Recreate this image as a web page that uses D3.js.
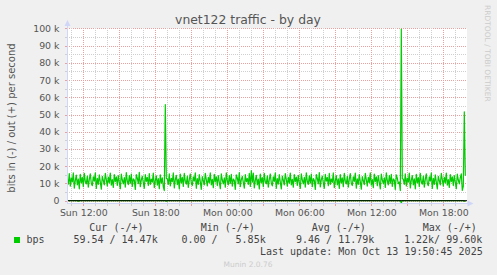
<!DOCTYPE html>
<html>
<head>
<meta charset="utf-8">
<script src="https://cdn.jsdelivr.net/npm/d3@7"></script>
<style>
body { margin: 0; background: #f0f0f0; }
svg { display: block; }
text { font-family: "DejaVu Sans", sans-serif; fill: #555; }
.mono { font-family: "DejaVu Sans Mono", monospace; white-space: pre; fill: #444; }
</style>
</head>
<body>
<div id="chart"></div>
<script>
// chart values (kbps), one point every 5 minutes from Sun 10:40 to Mon 19:50
const outK = [
  12.8, 9.6, 15.7, 8.4, 13.2, 10.9, 16.1, 7.3, 11.7, 14.8, 9.1, 12.6, 6.9, 15.3, 10.4, 13.5, 8.2, 15.9, 11.1, 9.7,
  14.3, 7.8, 12.4, 15.6, 10.0, 8.7, 13.9, 11.3, 16.2, 7.1, 12.9, 9.5, 15.0, 10.8, 6.7, 14.1, 11.8, 9.2, 15.8, 12.2,
  8.5, 13.7, 10.3, 16.0, 9.0, 12.3, 7.7, 15.2, 11.0, 13.8, 8.9, 14.6, 10.6, 7.0, 15.5, 12.0, 9.8, 13.4, 7.9, 16.3,
  11.4, 9.3, 14.5, 10.1, 15.4, 8.3, 12.7, 11.9, 6.5, 15.1, 13.1, 9.9, 16.4, 8.1, 12.1, 14.2, 10.5, 7.2, 15.2, 11.2,
  13.6, 8.8, 15.7, 9.4, 12.5, 10.7, 16.0, 7.5, 11.6, 14.4, 9.0, 12.8, 7.0, 15.0, 10.2, 13.3, 8.0, 5.85,
  55.8,
  13.0, 12.6, 9.5, 15.6, 8.6, 13.0, 11.0, 16.1, 7.4, 12.2, 14.7, 9.3, 12.5, 6.8, 15.4, 10.3, 13.6, 8.3, 15.8, 11.2, 9.6,
  14.2, 7.7, 12.3, 15.5, 10.1, 8.8, 13.8, 11.4, 16.2, 7.2, 12.8, 9.4, 15.1, 10.9, 6.6, 14.0, 11.7, 9.1, 15.9, 12.1,
  8.6, 13.5, 10.4, 16.1, 9.1, 12.4, 7.6, 15.3, 11.1, 13.9, 8.8, 14.5, 10.7, 7.0, 15.6, 12.0, 9.7, 13.2, 7.8, 16.2,
  11.5, 9.2, 14.6, 10.0, 15.3, 8.4, 12.6, 11.8, 6.6, 15.0, 13.2, 9.8, 16.3, 8.1, 12.2, 14.1, 10.6, 7.3, 15.1, 11.0,
  12.9, 9.5, 15.8, 8.3, 17.4, 10.8, 16.0, 7.4, 11.8, 14.7, 9.2, 12.5, 6.8, 15.4, 10.5, 13.4, 8.1, 15.8, 11.0, 9.8,
  14.4, 7.9, 12.3, 15.5, 10.1, 8.6, 13.8, 11.2, 16.1, 7.2, 12.8, 9.6, 15.1, 10.7, 6.8, 14.2, 11.9, 9.1, 15.7, 12.3,
  8.4, 13.6, 10.2, 16.0, 9.1, 12.4, 7.8, 15.1, 11.1, 13.7, 8.9, 14.7, 10.5, 7.1, 15.6, 12.1, 9.7, 13.5, 7.9, 16.2,
  11.3, 9.4, 14.4, 10.2, 15.5, 8.2, 12.8, 11.8, 6.5, 15.2, 13.0, 9.8, 16.3, 8.0, 12.2, 14.3, 10.4, 7.2, 15.3, 11.3,
  13.5, 8.7, 15.8, 9.5, 12.6, 10.6, 16.1, 7.6, 11.5, 14.5, 9.1, 12.7, 7.1, 15.1, 10.3, 13.2, 8.1, 15.9, 11.2, 9.7,
  14.1, 7.8, 12.5, 15.7, 10.0, 8.8, 13.9, 11.2, 16.0, 7.3, 12.7, 9.5, 15.2, 10.9, 6.7, 14.0, 11.6, 9.3, 15.8, 12.1,
  8.5, 13.6, 10.5, 16.2, 9.0, 12.2, 7.5, 15.4, 11.0, 13.8, 8.7, 14.6, 10.7, 6.9, 15.5, 12.1, 9.9, 13.3, 7.7, 16.1,
  11.6, 9.1, 14.5, 10.1, 15.3, 8.3, 12.6, 11.9, 6.6, 15.0, 13.1, 9.9, 10.8, 5.9,
  99.6,
  12.7, 12.5, 9.4, 15.6, 8.5, 13.1, 10.8, 16.0, 7.4, 11.9, 14.6, 9.1, 12.7, 6.9, 15.3, 10.4, 13.4, 8.2, 15.9, 11.0, 9.6, 14.3, 7.8, 12.4, 15.6,
  10.1, 8.7, 13.8, 11.4, 16.1, 7.1, 12.9, 9.4, 15.0, 10.8, 6.8, 14.1, 11.7, 9.2, 15.8, 12.2, 8.5, 13.6, 10.3, 16.0,
  9.0, 12.3, 7.7, 15.2, 11.0, 13.9, 8.8, 14.6, 10.6, 7.0, 15.5, 12.0, 9.8, 13.4, 15.6, 6.0, 8.3,
  51.6, 14.47
];
// in (-) traffic is almost nothing; only a few small bursts
const inBurstIndex = [11, 99, 334, 397];
const inBurstK = [0.3, 0.35, 1.22, 0.3];

const yTickValues = [0, 10, 20, 30, 40, 50, 60, 70, 80, 90, 100];
const yTickLabels = ['0', '10 k', '20 k', '30 k', '40 k', '50 k', '60 k', '70 k', '80 k', '90 k', '100 k'];
const xTickLabels = ['Sun 12:00', 'Sun 18:00', 'Mon 00:00', 'Mon 06:00', 'Mon 12:00', 'Mon 18:00'];
const xTickTimes = [
  Date.UTC(2025, 9, 12, 12), Date.UTC(2025, 9, 12, 18), Date.UTC(2025, 9, 13, 0),
  Date.UTC(2025, 9, 13, 6), Date.UTC(2025, 9, 13, 12), Date.UTC(2025, 9, 13, 18)
].map(t => new Date(t));

const legendHeaders = ['Cur (-/+)', 'Min (-/+)', 'Avg (-/+)', 'Max (-/+)'];
const legendValues = ['59.54 / 14.47k', '0.00 /   5.85k', '9.46 / 11.79k', '1.22k/ 99.60k'];

const W = 497, H = 275;
const plotL = 67, plotR = 467, plotT = 28.3, zeroY = 200.7, plotB = 203;
const firstPoint = Date.UTC(2025, 9, 12, 10, 40);
const step = 5 * 60 * 1000;

const svg = d3.select('#chart').append('svg')
    .attr('width', W)
    .attr('height', H);

svg.append('rect').attr('width', W).attr('height', H).attr('fill', '#f0f0f0');

const x = d3.scaleUtc()
    .domain([new Date(Date.UTC(2025, 9, 12, 10, 38, 30)), new Date(Date.UTC(2025, 9, 13, 19, 58, 30))])
    .range([plotL, plotR]);

const y = d3.scaleLinear()
    .domain([0, 100])
    .range([zeroY, plotT]);

// canvas
svg.append('rect')
    .attr('x', plotL).attr('y', plotT)
    .attr('width', plotR - plotL).attr('height', plotB - plotT)
    .attr('fill', '#fff');

// grid
const grid = svg.append('g').attr('shape-rendering', 'crispEdges');
const minorColor = '#cfcfcf', majorColor = '#eba0a0';

d3.range(0, 101, 5).forEach(v => {
    const major = v % 10 === 0;
    const yy = Math.round(y(v)) + 0.5;
    grid.append('line')
        .attr('x1', plotL).attr('x2', plotR).attr('y1', yy).attr('y2', yy)
        .attr('stroke', major ? majorColor : minorColor)
        .attr('stroke-dasharray', '1,1');
    grid.append('line')
        .attr('x1', plotL - 2).attr('x2', plotL).attr('y1', yy).attr('y2', yy)
        .attr('stroke', major ? majorColor : minorColor);
});

d3.utcHour.range(x.domain()[0], x.domain()[1]).forEach(t => {
    const major = t.getUTCHours() % 3 === 0;
    const xx = Math.round(x(t)) + 0.5;
    grid.append('line')
        .attr('x1', xx).attr('x2', xx).attr('y1', plotT).attr('y2', plotB)
        .attr('stroke', major ? majorColor : minorColor)
        .attr('stroke-dasharray', '1,1');
    grid.append('line')
        .attr('x1', xx).attr('x2', xx).attr('y1', plotB).attr('y2', plotB + 3)
        .attr('stroke', major ? majorColor : minorColor);
});

// data
svg.append('clipPath').attr('id', 'plot')
    .append('rect')
    .attr('x', plotL).attr('y', plotT - 2)
    .attr('width', plotR - plotL).attr('height', plotB - plotT + 3);

const outData = outK.map((v, i) => ({ t: new Date(firstPoint + i * step), v: v }));
const inData = outK.map((v, i) => {
    const k = inBurstIndex.indexOf(i);
    return { t: new Date(firstPoint + i * step), v: k >= 0 ? -inBurstK[k] : 0 };
});

const line = d3.line()
    .x(d => x(d.t))
    .y(d => y(d.v));

const plot = svg.append('g').attr('clip-path', 'url(#plot)');

plot.append('path')
    .datum(inData)
    .attr('fill', 'none')
    .attr('stroke', '#00cc00')
    .attr('stroke-width', 1.2)
    .attr('d', line);

plot.append('path')
    .datum(outData)
    .attr('fill', 'none')
    .attr('stroke', '#00cc00')
    .attr('stroke-width', 1.2)
    .attr('stroke-linejoin', 'round')
    .attr('d', line);

// zero line
svg.append('line')
    .attr('x1', plotL).attr('x2', plotR)
    .attr('y1', zeroY).attr('y2', zeroY)
    .attr('stroke', '#000').attr('stroke-width', 1);

// axes lines and arrows
const axisColor = '#cfd6f8';
svg.append('line')
    .attr('x1', plotL + 0.5).attr('x2', plotL + 0.5)
    .attr('y1', plotB).attr('y2', 23)
    .attr('stroke', axisColor);
svg.append('line')
    .attr('x1', plotL).attr('x2', 470)
    .attr('y1', plotB + 0.5).attr('y2', plotB + 0.5)
    .attr('stroke', axisColor);
svg.append('path')
    .attr('d', `M${plotL + 0.5},20 L${plotL + 3.5},26 L${plotL - 2.5},26 Z`)
    .attr('fill', axisColor);
svg.append('path')
    .attr('d', `M473.5,${plotB + 0.5} L467.5,${plotB - 2.5} L467.5,${plotB + 3.5} Z`)
    .attr('fill', axisColor);

// tick labels
const yAxis = svg.append('g')
    .attr('transform', `translate(${plotL},0)`)
    .call(d3.axisLeft(y).tickValues(yTickValues)
        .tickFormat((d, i) => yTickLabels[i]).tickSize(0).tickPadding(7.5));
yAxis.select('.domain').remove();
yAxis.selectAll('text')
    .attr('font-family', '"DejaVu Sans", sans-serif')
    .attr('font-size', 9.4)
    .style('fill', '#555');

const xAxis = svg.append('g')
    .attr('transform', `translate(0,${plotB})`)
    .call(d3.axisBottom(x).tickValues(xTickTimes)
        .tickFormat((d, i) => xTickLabels[i]).tickSize(0).tickPadding(6.3));
xAxis.select('.domain').remove();
xAxis.selectAll('text')
    .attr('font-family', '"DejaVu Sans", sans-serif')
    .attr('font-size', 9.4)
    .style('fill', '#555');

// title and side texts
svg.append('text')
    .attr('x', 248).attr('y', 24)
    .attr('text-anchor', 'middle')
    .attr('font-size', 12.4)
    .text('vnet122 traffic - by day');

svg.append('text')
    .attr('transform', 'translate(15,118) rotate(-90)')
    .attr('text-anchor', 'middle')
    .attr('font-size', 10)
    .text('bits in (-) / out (+) per second');

svg.append('text')
    .attr('transform', 'translate(485,5) rotate(90)')
    .attr('font-size', 7.5)
    .style('fill', '#cccccc')
    .text('RRDTOOL / TOBI OETIKER');

// legend
const headerX = [89.3, 200.7, 311.7, 422.7];
svg.selectAll('.hdr')
    .data(legendHeaders)
    .enter().append('text')
    .attr('class', 'mono hdr')
    .attr('x', (d, i) => headerX[i])
    .attr('y', 230.7)
    .attr('font-size', 10)
    .text(d => d);

svg.append('rect')
    .attr('x', 14).attr('y', 237)
    .attr('width', 6).attr('height', 6)
    .attr('fill', '#00cc00');
svg.append('text')
    .attr('class', 'mono')
    .attr('x', 26.5).attr('y', 243)
    .attr('font-size', 10)
    .text('bps');

const valueEnd = [157.7, 265.7, 374.3, 482.3];
svg.selectAll('.val')
    .data(legendValues)
    .enter().append('text')
    .attr('class', 'mono val')
    .attr('x', (d, i) => valueEnd[i])
    .attr('y', 243)
    .attr('text-anchor', 'end')
    .attr('font-size', 10)
    .text(d => d);

svg.append('text')
    .attr('class', 'mono')
    .attr('x', 482.7).attr('y', 255)
    .attr('text-anchor', 'end')
    .attr('font-size', 10)
    .text('Last update: Mon Oct 13 19:50:45 2025');

svg.append('text')
    .attr('x', 248).attr('y', 267)
    .attr('text-anchor', 'middle')
    .attr('font-size', 7.5)
    .style('fill', '#cccccc')
    .text('Munin 2.0.76');
</script>
</body>
</html>
